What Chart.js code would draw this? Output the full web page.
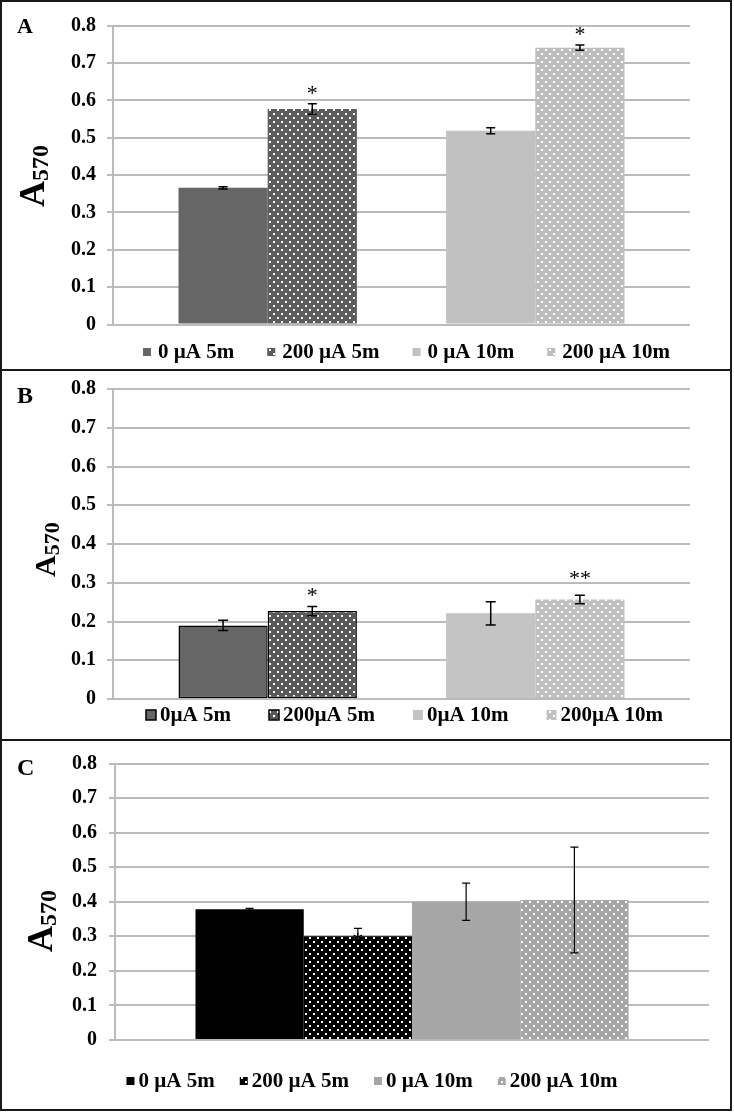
<!DOCTYPE html>
<html>
<head>
<meta charset="utf-8">
<script src="https://cdn.jsdelivr.net/npm/chart.js@4.4.1/dist/chart.umd.min.js"></script>
<style>
  body { margin: 0; background: #fff; }
  #wrap { position: relative; width: 734px; height: 1112px; }
  .panel { position: absolute; left: 0; width: 734px; height: 370px; }
  .frame { position: absolute; left: 0; top: 0; width: 732px; height: 1111px; border: 2px solid #1a1a1a; box-sizing: border-box; pointer-events: none; }
  .sep { position: absolute; left: 0; width: 732px; height: 2px; background: #1a1a1a; }
</style>
</head>
<body>
<div id="wrap">
  <div class="panel" style="top:0"><canvas id="chartA"></canvas></div>
  <div class="panel" style="top:370px"><canvas id="chartB"></canvas></div>
  <div class="panel" style="top:740px"><canvas id="chartC"></canvas></div>
  <div class="frame"></div>
  <div class="sep" style="top:369px"></div>
  <div class="sep" style="top:739px"></div>
</div>
<script>
// A570 absorbance, three panels, one category each

const FONT = '"Liberation Serif", "Times New Roman", serif';

const GROUP = ['A570'];
const Y_TICKS = [0, 0.1, 0.2, 0.3, 0.4, 0.5, 0.6, 0.7, 0.8];
const Y_TICK_LABELS = ['0', '0.1', '0.2', '0.3', '0.4', '0.5', '0.6', '0.7', '0.8'];

const LABELS_A = ['0 µA 5m', '200 µA 5m', '0 µA 10m', '200 µA 10m'];
const MEANS_A  = [0.366, 0.577, 0.519, 0.741];
const ERRS_A   = [0.003, 0.014, 0.008, 0.007];
const STARS_A  = ['', '*', '', '*'];

const LABELS_B = ['0µA 5m', '200µA 5m', '0µA 10m', '200µA 10m'];
const MEANS_B  = [0.190, 0.227, 0.221, 0.257];
const ERRS_B   = [0.013, 0.012, 0.030, 0.011];
const STARS_B  = ['', '*', '', '**'];

const LABELS_C = ['0 µA 5m', '200 µA 5m', '0 µA 10m', '200 µA 10m'];
const MEANS_C  = [0.378, 0.300, 0.400, 0.405];
const ERRS_C   = [0.003, 0.023, 0.054, 0.153];
const STARS_C  = ['', '*', '', ''];

// white dot grid on a flat fill, like the Excel pattern fill
function dots(base) {
    const c = document.createElement('canvas');
    c.width = 8; c.height = 8;
    const g = c.getContext('2d');
    g.fillStyle = base;
    g.fillRect(0, 0, 8, 8);
    g.fillStyle = '#ffffff';
    g.fillRect(1, 1, 2, 2);
    g.fillRect(5, 5, 2, 2);
    return g.createPattern(c, 'repeat');
}

const PANELS = [
    {
        id: 'chartA', tag: 'A', tagSize: 22, tagY: 33,
        labels: LABELS_A, means: MEANS_A, errs: ERRS_A, stars: STARS_A,
        starLift: [0, 13, 0, 13],
        fills: ['#666666', dots('#5c5c5c'), '#c1c1c1', dots('#bdbdbd')],
        outline: [false, false, false, false],
        spacer: true, catPct: 0.773,
        pad: { left: 60, right: 44, top: 25.7, bottom: 45.5 }, axisW: 53, tickPad: 11,
        title: { x: 44, y: 207, size: 36, sub: 24, drop: 4 },
        cap: 4.5, errWidth: 1.5,
        legend: { cx: 406.5, cy: 352, box: 8, gap: 7, space: 33, size: 21 },
    },
    {
        id: 'chartB', tag: 'B', tagSize: 24, tagY: 33,
        labels: LABELS_B, means: MEANS_B, errs: ERRS_B, stars: STARS_B,
        starLift: [0, 13, 0, 19],
        fills: ['#666666', dots('#595959'), '#c4c4c4', dots('#c0c0c0')],
        outline: [true, true, false, false],
        spacer: true, catPct: 0.773,
        pad: { left: 60, right: 44, top: 19, bottom: 41 }, axisW: 53, tickPad: 11,
        title: { x: 55, y: 577, size: 30, sub: 22, drop: 4 },
        cap: 5, errWidth: 1.5,
        legend: { cx: 404.5, cy: 345, box: 10, gap: 4, space: 38, size: 21 },
    },
    {
        id: 'chartC', tag: 'C', tagSize: 24, tagY: 35,
        labels: LABELS_C, means: MEANS_C, errs: ERRS_C, stars: STARS_C,
        starLift: [0, -10, 0, 0],
        fills: ['#000000', dots('#000000'), '#a6a6a6', dots('#a6a6a6')],
        outline: [false, false, false, false],
        spacer: false, catPct: 0.729,
        pad: { left: 60, right: 25, top: 23.5, bottom: 70 }, axisW: 55, tickPad: 12,
        title: { x: 52, y: 952, size: 36, sub: 24, drop: 4 },
        cap: 4, errWidth: 1.2,
        legend: { cx: 372, cy: 341, box: 8, gap: 4, space: 25, size: 21 },
    },
];

function drawTitle(ctx, p, top) {
    const t = p.title;
    ctx.save();
    ctx.translate(t.x, t.y - top);
    ctx.rotate(-Math.PI / 2);
    ctx.fillStyle = '#000';
    ctx.textBaseline = 'alphabetic';
    ctx.font = `bold ${t.size}px ${FONT}`;
    ctx.fillText('A', 0, 0);
    const w = ctx.measureText('A').width;
    ctx.font = `bold ${t.sub}px ${FONT}`;
    ctx.fillText('570', w, t.drop);
    ctx.restore();
}

function drawLegend(ctx, p) {
    const L = p.legend;
    ctx.save();
    ctx.font = `bold ${L.size}px ${FONT}`;
    ctx.textBaseline = 'middle';
    const widths = p.labels.map(t => ctx.measureText(t).width);
    const total = widths.reduce((s, w) => s + L.box + L.gap + w, 0) + L.space * (widths.length - 1);
    let x = L.cx - total / 2;
    p.labels.forEach((t, i) => {
        ctx.fillStyle = p.fills[i];
        ctx.fillRect(x, L.cy - L.box / 2, L.box, L.box);
        if (p.outline[i]) {
            ctx.strokeStyle = '#000';
            ctx.lineWidth = 1.5;
            ctx.strokeRect(x, L.cy - L.box / 2, L.box, L.box);
        }
        x += L.box + L.gap;
        ctx.fillStyle = '#000';
        ctx.fillText(t, x, L.cy + 1);
        x += widths[i] + L.space;
    });
    ctx.restore();
}

function makeExtras(p, top, slots) {
    return {
        id: 'extras',
        afterDatasetsDraw(chart) {
            const ctx = chart.ctx;
            const y = chart.scales.y;
            ctx.save();
            slots.forEach((di, i) => {
                const bar = chart.getDatasetMeta(di).data[0];
                const x = bar.x;
                const hi = y.getPixelForValue(p.means[i] + p.errs[i]);
                const lo = y.getPixelForValue(p.means[i] - p.errs[i]);
                ctx.strokeStyle = '#000';
                ctx.lineWidth = p.errWidth;
                ctx.beginPath();
                ctx.moveTo(x, hi); ctx.lineTo(x, lo);
                ctx.moveTo(x - p.cap, hi); ctx.lineTo(x + p.cap, hi);
                ctx.moveTo(x - p.cap, lo); ctx.lineTo(x + p.cap, lo);
                ctx.stroke();
                if (p.stars[i]) {
                    ctx.fillStyle = '#000';
                    ctx.font = `22px ${FONT}`;
                    ctx.textAlign = 'center';
                    ctx.textBaseline = 'middle';
                    ctx.fillText(p.stars[i], x, hi - p.starLift[i] + 3);
                }
            });
            ctx.restore();
        },
        afterDraw(chart) {
            const ctx = chart.ctx;
            ctx.save();
            ctx.fillStyle = '#000';
            ctx.font = `bold ${p.tagSize}px ${FONT}`;
            ctx.textBaseline = 'alphabetic';
            ctx.fillText(p.tag, 17, p.tagY);
            ctx.restore();
            drawTitle(ctx, p, top);
            drawLegend(ctx, p);
        },
    };
}

PANELS.forEach((p, k) => {
    const top = k * 370;
    const datasets = [];
    const slots = [];
    p.labels.forEach((label, i) => {
        if (p.spacer && i === 2) datasets.push({ label: '', data: [null] });
        slots.push(datasets.length);
        datasets.push({
            label,
            data: [p.means[i]],
            backgroundColor: p.fills[i],
            borderColor: '#000',
            borderWidth: p.outline[i] ? 1.5 : 0,
            borderSkipped: false,
        });
    });

    new Chart(document.getElementById(p.id), {
        type: 'bar',
        data: { labels: GROUP, datasets },
        options: {
            responsive: true,
            maintainAspectRatio: false,
            animation: false,
            layout: { padding: p.pad },
            datasets: { bar: { categoryPercentage: p.catPct, barPercentage: 1 } },
            plugins: { legend: { display: false }, tooltip: { enabled: false } },
            scales: {
                x: { display: false },
                y: {
                    min: 0,
                    max: 0.8,
                    afterBuildTicks: s => { s.ticks = Y_TICKS.map(v => ({ value: v })); },
                    afterFit: s => { s.width = p.axisW; s.paddingTop = 0; s.paddingBottom = 0; },
                    ticks: {
                        padding: p.tickPad,
                        color: '#000',
                        font: { family: FONT, size: 20, weight: 'bold' },
                        callback: (v, i) => Y_TICK_LABELS[i],
                    },
                    grid: { color: '#bbbbbb', lineWidth: 2, tickLength: 6 },
                    border: { display: true, color: '#bbbbbb', width: 2 },
                },
            },
        },
        plugins: [makeExtras(p, top, slots)],
    });
});
</script>
</body>
</html>
